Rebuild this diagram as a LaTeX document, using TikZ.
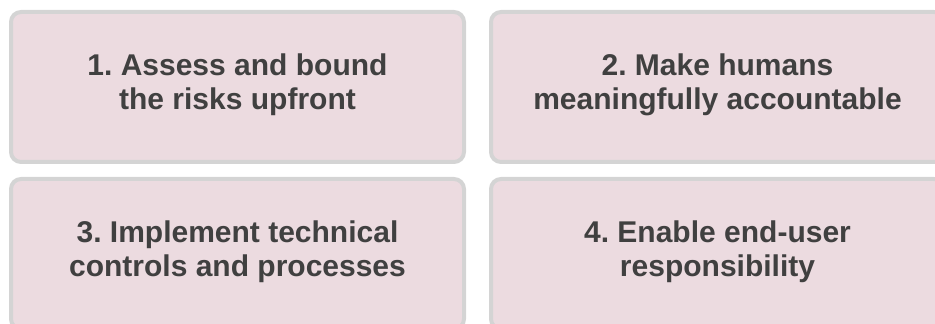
\documentclass[tikz,border=0pt]{standalone}
\usepackage{fontspec}
\setmainfont{Liberation Sans}
\frenchspacing
\definecolor{cardfill}{HTML}{ECDBE0}
\definecolor{cardline}{HTML}{D4D4D4}
\definecolor{cardtext}{HTML}{404040}
\begin{document}
\begin{tikzpicture}[x=1pt,y=1pt,
  card/.style={draw=cardline, fill=cardfill, line width=4pt, rounded corners=10pt,
    minimum width=453pt, minimum height=150pt, inner sep=0pt},
  cardlabel/.style={text=cardtext, font=\bfseries\fontsize{30}{34}\selectfont, align=center, inner sep=0pt}]
\useasboundingbox (0,0) rectangle (935,324);
\clip (0,0) rectangle (935,324);
\node[card] (b1) at (237.5,237) {};
\node[card] (b2) at (717.5,237) {};
\node[card] (b3) at (237.5,70) {};
\node[card] (b4) at (717.5,70) {};
\node[cardlabel] (t1) at ([yshift=2.5pt]b1.center) {1. Assess and bound\\the risks upfront};
\node[cardlabel] (t2) at ([yshift=2.5pt]b2.center) {2. Make humans\\meaningfully accountable};
\node[cardlabel] (t3) at ([yshift=2.5pt]b3.center) {3. Implement technical\\controls and processes};
\node[cardlabel] (t4) at ([yshift=2.5pt]b4.center) {4. Enable end-user\\responsibility};
\end{tikzpicture}
\end{document}
